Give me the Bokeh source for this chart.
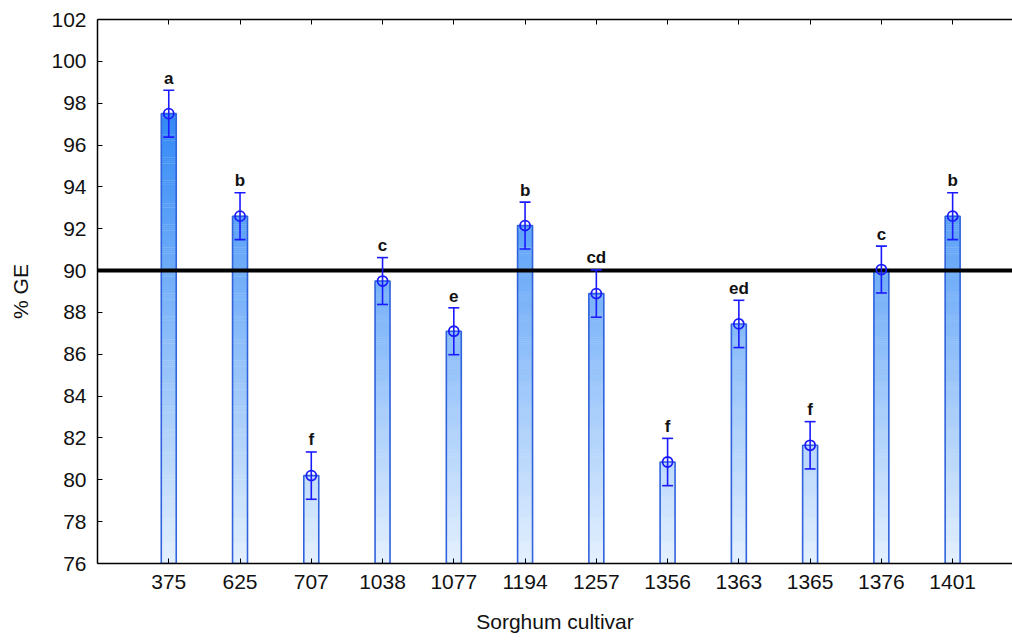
import numpy as np
from bokeh.plotting import figure
from bokeh.models import (FixedTicker, LinearAxis, Range1d, Span, Whisker,
                          ColumnDataSource, TeeHead)
from bokeh.core.properties import value
from bokeh.embed import file_html
from bokeh.resources import INLINE

# ---- data ----
cultivars = ["375", "625", "707", "1038", "1077", "1194", "1257", "1356",
             "1363", "1365", "1376", "1401"]
ge_mean = [97.5, 92.6, 80.2, 89.5, 87.1, 92.15, 88.9, 80.85, 87.45, 81.65, 90.05, 92.6]
ge_err = [1.12, 1.12, 1.13, 1.12, 1.12, 1.12, 1.13, 1.13, 1.13, 1.13, 1.12, 1.12]
letters = ["a", "b", "f", "c", "e", "b", "cd", "f", "ed", "f", "c", "b"]
threshold = 90
y_min, y_max = 76, 102

FONT = "Liberation Sans"
BAR_W = 0.21

p = figure(width=1012, height=641, output_backend="svg", toolbar_location=None,
           x_range=Range1d(-1, 11.84), y_range=Range1d(y_min, y_max),
           min_border_left=97, min_border_right=0, min_border_top=19,
           min_border_bottom=78)
p.outline_line_color = None
p.xgrid.visible = False
p.ygrid.visible = False
p.background_fill_color = "white"
p.border_fill_color = "white"

# ---- gradient bars (colour depends on height) ----
bot_rgb = np.array([228, 240, 254])
top_rgb = np.array([45, 134, 245])
step = 0.1
L, R, B, T, C = [], [], [], [], []
for i, v in enumerate(ge_mean):
    edges = np.arange(y_min, v, step)
    for b in edges:
        t_ = min(b + step, v)
        f = ((b + t_) / 2 - y_min) / (98 - y_min)
        f = min(max(f, 0), 1)
        rgb = bot_rgb + (top_rgb - bot_rgb) * f
        L.append(i - BAR_W / 2); R.append(i + BAR_W / 2)
        B.append(b); T.append(t_ + 0.02 if t_ < v else t_)
        C.append("#%02x%02x%02x" % tuple(int(round(c)) for c in rgb))
p.quad(left=L, right=R, bottom=B, top=T, fill_color=C, line_color=None)

xs = list(range(len(cultivars)))
src = ColumnDataSource(dict(x=xs, top=ge_mean,
                            upper=[m + e for m, e in zip(ge_mean, ge_err)],
                            lower=[m - e for m, e in zip(ge_mean, ge_err)],
                            lab=letters))
p.vbar(x="x", top="top", bottom=y_min, width=BAR_W, source=src,
       fill_alpha=0, line_color="#2f62dc", line_width=1.6)

# threshold line
p.add_layout(Span(location=threshold, dimension="width", line_color="black",
                  line_width=4, level="glyph"))

# error bars
ERR = "#1a1aff"
w = Whisker(base="x", upper="upper", lower="lower", source=src,
            line_color=ERR, line_width=1.6, level="annotation",
            upper_head=TeeHead(size=11, line_color=ERR, line_width=1.6),
            lower_head=TeeHead(size=11, line_color=ERR, line_width=1.6))
p.add_layout(w)
p.scatter(x="x", y="top", source=src, marker="circle", size=10,
          fill_alpha=0, line_color=ERR, line_width=1.8, level="annotation")

# letters
p.text(x="x", y="upper", text="lab", source=src, text_align="center",
       text_baseline="alphabetic", y_offset=-12, text_font=value(FONT),
       text_font_style="bold", text_font_size="17px", text_color="#111111")

# ---- axes ----
xa = p.xaxis[0]
xa.ticker = FixedTicker(ticks=xs)
xa.major_label_overrides = {i: c for i, c in enumerate(cultivars)}
xa.minor_tick_line_color = None
xa.major_tick_in = 5
xa.major_tick_out = 0
xa.axis_line_width = 1.5
xa.major_label_text_font = FONT
xa.major_label_text_font_size = "21px"
xa.major_label_text_color = "#111111"
xa.major_label_standoff = 11
xa.axis_label = "Sorghum cultivar"
xa.axis_label_text_font = FONT
xa.axis_label_text_font_size = "21px"
xa.axis_label_text_font_style = "normal"
xa.axis_label_text_color = "#111111"
xa.axis_label_standoff = 18

ya = p.yaxis[0]
ya.ticker = FixedTicker(ticks=list(range(y_min, y_max + 1, 2)))
ya.minor_tick_line_color = None
ya.major_tick_in = 5
ya.major_tick_out = 0
ya.axis_line_width = 1.5
ya.major_label_text_font = FONT
ya.major_label_text_font_size = "21px"
ya.major_label_text_color = "#111111"
ya.major_label_standoff = 11
ya.axis_label = "% GE"
ya.axis_label_text_font = FONT
ya.axis_label_text_font_size = "21px"
ya.axis_label_text_font_style = "normal"
ya.axis_label_text_color = "#111111"
ya.axis_label_standoff = 16

top_ax = LinearAxis(ticker=FixedTicker(ticks=xs), major_tick_in=5,
                    major_tick_out=0, minor_tick_line_color=None,
                    major_label_overrides={i: "" for i in xs},
                    major_label_standoff=0, axis_line_width=1.5)
p.add_layout(top_ax, "above")

open("out.html", "w").write(file_html(p, INLINE))
